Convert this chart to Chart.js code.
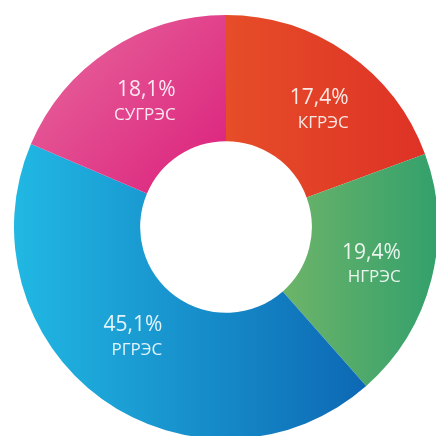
<!DOCTYPE html>
<html>
<head>
<meta charset="utf-8">
<script src="https://cdn.jsdelivr.net/npm/chart.js@4.4.1/dist/chart.umd.min.js"></script>
<style>
  html, body { margin: 0; padding: 0; background: #ffffff; overflow: hidden; width: 436px; height: 436px; }
  #wrap { position: absolute; left: 14px; top: 15px; width: 424px; height: 424px; }
</style>
</head>
<body>
<div id="wrap"><canvas id="c" width="424" height="424"></canvas></div>
<script>
// Plant names (slice order, clockwise from 12 o'clock)
const categories = ['КГРЭС', 'НГРЭС', 'РГРЭС', 'СУГРЭС'];
// Slice sizes as drawn in the picture (share of the full circle, %)
const sliceShares = [19.4, 19.1, 42.9, 18.6];
// Percent labels as printed on the slices
const percentLabels = ['17,4%', '19,4%', '45,1%', '18,1%'];
// Gradient colour stops per slice: [light side, dark side]
const gradientStops = [
  ['#E64D28', '#DE3226'],
  ['#6DB469', '#33A06C'],
  ['#21B8E3', '#0D68B4'],
  ['#E86A9D', '#DB1F7C']
];

function sliceBounds(cx, cy, rIn, rOut, a0, a1) {
  let minX = Infinity, maxX = -Infinity, minY = Infinity, maxY = -Infinity;
  const n = 60;
  for (let i = 0; i <= n; i++) {
    const a = a0 + (a1 - a0) * i / n;
    for (const r of [rIn, rOut]) {
      const x = cx + Math.cos(a) * r, y = cy + Math.sin(a) * r;
      minX = Math.min(minX, x); maxX = Math.max(maxX, x);
      minY = Math.min(minY, y); maxY = Math.max(maxY, y);
    }
  }
  return { minX, maxX, minY, maxY };
}

function sliceGradient(context) {
  const chart = context.chart;
  const area = chart.chartArea;
  if (!area) return gradientStops[context.dataIndex][0];
  const i = context.dataIndex;
  const total = sliceShares.reduce((a, b) => a + b, 0);
  let before = 0;
  for (let k = 0; k < i; k++) before += sliceShares[k];
  const a0 = -Math.PI / 2 + before / total * 2 * Math.PI;
  const a1 = a0 + sliceShares[i] / total * 2 * Math.PI;
  const cx = (area.left + area.right) / 2, cy = (area.top + area.bottom) / 2;
  const rOut = Math.min(area.right - area.left, area.bottom - area.top) / 2;
  const rIn = rOut * 0.405;
  const b = sliceBounds(cx, cy, rIn, rOut, a0, a1);
  let g;
  if (i === 3) {
    g = chart.ctx.createLinearGradient(b.minX, b.minY, b.maxX, b.maxY);
  } else {
    g = chart.ctx.createLinearGradient(b.minX, 0, b.maxX, 0);
  }
  g.addColorStop(0, gradientStops[i][0]);
  g.addColorStop(1, gradientStops[i][1]);
  return g;
}

const sliceLabelPlugin = {
  id: 'sliceLabels',
  afterDatasetsDraw(chart, args, opts) {
    const ctx = chart.ctx;
    const meta = chart.getDatasetMeta(0);
    const nudges = opts.nudges || [];
    meta.data.forEach((arc, i) => {
      const p = arc.getProps(['x', 'y', 'startAngle', 'endAngle', 'innerRadius', 'outerRadius'], true);
      const mid = (p.startAngle + p.endAngle) / 2;
      const r = (p.innerRadius + p.outerRadius) / 2;
      const n = nudges[i] || [0, 0];
      const px = p.x + Math.cos(mid) * r + n[0];
      const py = p.y + Math.sin(mid) * r + n[1];
      ctx.save();
      ctx.fillStyle = 'rgba(255,255,255,0.88)';
      ctx.textBaseline = 'middle';
      ctx.font = '21px "Open Sans"';
      const w1 = ctx.measureText(percentLabels[i]).width;
      ctx.font = '17px "Open Sans"';
      const w2 = ctx.measureText(categories[i]).width;
      const right = px + Math.max(w1, w2) / 2;
      ctx.textAlign = 'right';
      ctx.font = '21px "Open Sans"';
      ctx.fillText(percentLabels[i], right, py - 12);
      ctx.font = '17px "Open Sans"';
      ctx.fillText(categories[i], right, py + 13);
      ctx.restore();
    });
  }
};

new Chart(document.getElementById('c'), {
  type: 'doughnut',
  data: {
    labels: categories,
    datasets: [{
      data: sliceShares,
      backgroundColor: sliceGradient,
      borderWidth: 0,
      hoverOffset: 0
    }]
  },
  options: {
    responsive: false,
    animation: false,
    cutout: '40.5%',
    layout: { padding: 0 },
    plugins: {
      legend: { display: false },
      tooltip: { enabled: false },
      sliceLabels: { nudges: [[8, 5], [1, 1], [-6, -11], [1, -1]] }
    },
    events: []
  },
  plugins: [sliceLabelPlugin]
});
</script>
</body>
</html>
